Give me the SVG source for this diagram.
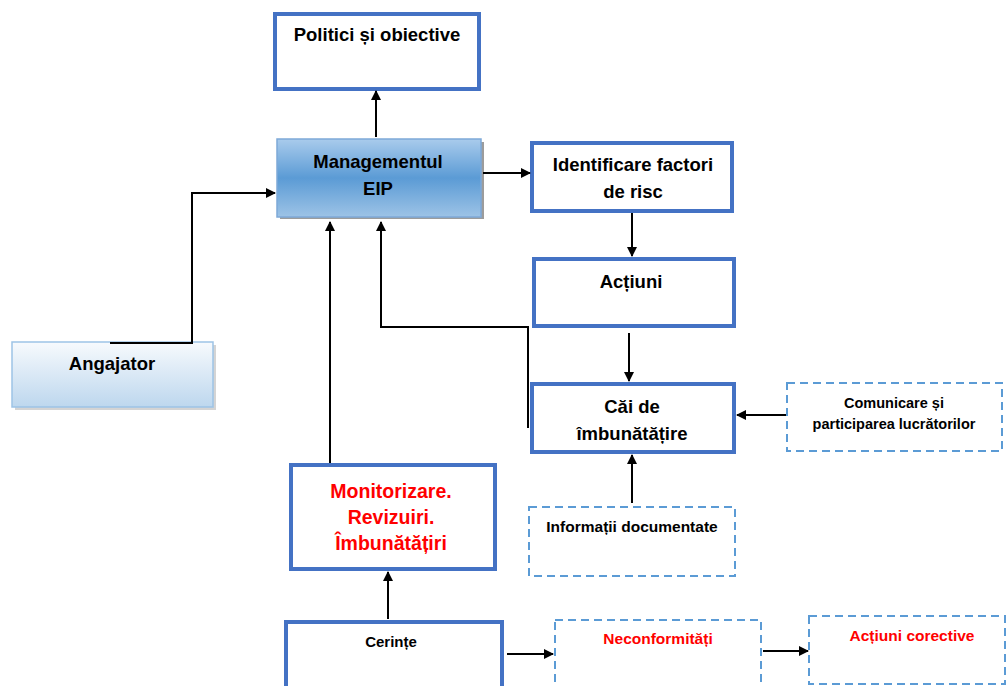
<svg xmlns="http://www.w3.org/2000/svg" width="1008" height="686" viewBox="0 0 1008 686">
<style>
  .box{fill:#fff;stroke:#4472C4;stroke-width:4}
  .dash{fill:#fff;stroke:#5B9BD5;stroke-width:2;stroke-dasharray:8 5}
  .t{font-family:"Liberation Sans",Arial,sans-serif;font-weight:bold;text-anchor:middle;fill:#000}
  .big{font-size:18.5px}
  .sm{font-size:14.5px}
  .red{fill:#FF0000}
  .c{fill:none;stroke:#000;stroke-width:2}
</style>
<defs>
  <marker id="ah" markerWidth="10" markerHeight="10" refX="9" refY="5" orient="auto" markerUnits="userSpaceOnUse">
    <path d="M0,0 L10,5 L0,10 Z" fill="#000"/>
  </marker>
  <linearGradient id="gM" x1="0" y1="0" x2="0" y2="1">
    <stop offset="0" stop-color="#A9CBEC"/>
    <stop offset="0.5" stop-color="#5B9BD5"/>
    <stop offset="1" stop-color="#9DC3E6"/>
  </linearGradient>
  <linearGradient id="gA" x1="0" y1="0" x2="0" y2="1">
    <stop offset="0" stop-color="#F7FAFD"/>
    <stop offset="1" stop-color="#BDD7EE"/>
  </linearGradient>
</defs>

<g id="politici">
  <rect class="box" x="275" y="14" width="204" height="75"/>
  <text class="t big" x="377" y="41">Politici și obiective</text>
</g>

<g id="management">
  <rect x="280" y="142" width="204" height="77" fill="#5a5a5a" opacity="0.6"/>
  <rect x="277" y="139" width="204" height="78" fill="url(#gM)" stroke="#7EA9D8" stroke-width="1.5"/>
  <text class="t big" x="378" y="168">Managementul</text>
  <text class="t big" x="378" y="195">EIP</text>
</g>

<g id="identificare">
  <rect class="box" x="532" y="143" width="200" height="68"/>
  <text class="t big" x="633" y="171">Identificare factori</text>
  <text class="t big" x="633" y="198">de risc</text>
</g>

<g id="actiuni">
  <rect class="box" x="534" y="259" width="200" height="67"/>
  <text class="t big" x="631" y="288">Acțiuni</text>
</g>

<g id="cai">
  <rect class="box" x="532" y="384" width="202" height="68"/>
  <text class="t big" x="632" y="413">Căi de</text>
  <text class="t big" x="632" y="440">îmbunătățire</text>
</g>

<g id="angajator">
  <rect x="15" y="345" width="201" height="65" fill="#B8B8B8" opacity="0.6"/>
  <rect x="12" y="342" width="201" height="65" fill="url(#gA)" stroke="#9DC3E6" stroke-width="1.5"/>
  <text class="t big" x="112" y="370">Angajator</text>
</g>

<g id="comunicare">
  <rect class="dash" x="787" y="383" width="215" height="68"/>
  <text class="t sm" x="894" y="408">Comunicare și</text>
  <text class="t sm" x="894" y="429">participarea lucrătorilor</text>
</g>

<g id="monitorizare">
  <rect class="box" x="291" y="465" width="204" height="104"/>
  <text class="t red" font-size="19.5" x="391" y="498">Monitorizare.</text>
  <text class="t red" font-size="19.5" x="391" y="524">Revizuiri.</text>
  <text class="t red" font-size="19.5" x="391" y="550">Îmbunătățiri</text>
</g>

<g id="informatii">
  <rect class="dash" x="529" y="507" width="206" height="69"/>
  <text class="t" font-size="15.5" x="632" y="532">Informații documentate</text>
</g>

<g id="cerinte">
  <rect class="box" x="286" y="622" width="216" height="70"/>
  <text class="t" font-size="15" x="391" y="647">Cerințe</text>
</g>

<g id="neconformitati">
  <rect class="dash" x="555" y="620" width="206" height="72"/>
  <text class="t red" font-size="15.5" x="658" y="644">Neconformități</text>
</g>

<g id="actiuni-corective">
  <rect class="dash" x="809" y="616" width="196" height="68"/>
  <text class="t red" font-size="15.5" x="912" y="641">Acțiuni corective</text>
</g>

<g id="connectors">
  <line class="c" x1="376" y1="137" x2="376" y2="91" marker-end="url(#ah)"/>
  <line class="c" x1="483" y1="173" x2="530" y2="173" marker-end="url(#ah)"/>
  <polyline class="c" points="110,343 192,343 192,193 275,193" marker-end="url(#ah)"/>
  <line class="c" x1="632" y1="213" x2="632" y2="256" marker-end="url(#ah)"/>
  <line class="c" x1="629" y1="333" x2="629" y2="381" marker-end="url(#ah)"/>
  <polyline class="c" points="528,428 528,327 381,327 381,222" marker-end="url(#ah)"/>
  <line class="c" x1="330" y1="463" x2="330" y2="222" marker-end="url(#ah)"/>
  <line class="c" x1="786" y1="415" x2="737" y2="415" marker-end="url(#ah)"/>
  <line class="c" x1="632" y1="503" x2="632" y2="455" marker-end="url(#ah)"/>
  <line class="c" x1="388" y1="619" x2="388" y2="572" marker-end="url(#ah)"/>
  <line class="c" x1="507" y1="654" x2="553" y2="654" marker-end="url(#ah)"/>
  <line class="c" x1="763" y1="651" x2="808" y2="651" marker-end="url(#ah)"/>
</g>
</svg>
